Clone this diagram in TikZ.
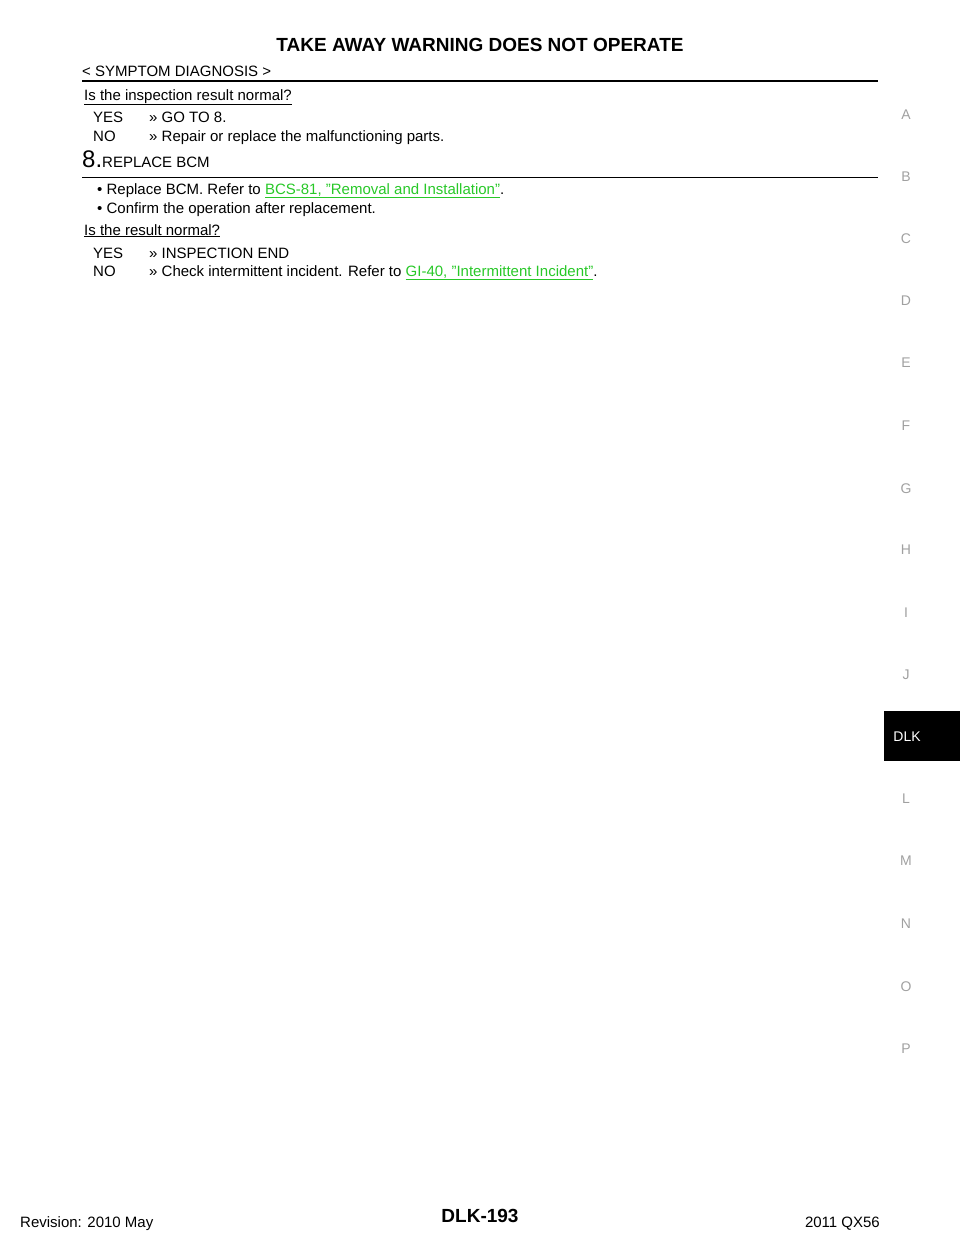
\documentclass[tikz,border=0pt]{standalone}
\usepackage{fontspec}
\setmainfont{Liberation Sans}
\usepackage{xcolor}
\definecolor{lnk}{RGB}{40,200,40}
\definecolor{side}{RGB}{160,160,160}
\begin{document}
\begin{tikzpicture}[x=1pt,y=-1pt,
  txt/.style={anchor=base west,inner sep=0pt,font=\fontsize{15}{18}\selectfont},
  sidel/.style={anchor=base,inner sep=0pt,text=side,font=\fontsize{14}{16}\selectfont}]
\useasboundingbox (0,0) rectangle (960,1242);
\node[anchor=base,inner sep=0pt,font=\bfseries\fontsize{19}{22}\selectfont] (title) at (480,51) {TAKE AWAY WARNING DOES NOT OPERATE};
\node[txt] (sec) at (82,76) {< SYMPTOM DIAGNOSIS >};
\draw[line width=2pt] (82,81) -- (878,81);
\node[txt] (q1) at (84,100) {\underline{Is the inspection result normal?}};
\node[txt] (y1) at (93,122) {YES};
\node[txt] (y1t) at (149,122) {>> GO TO 8.};
\node[txt] (n1) at (93,141) {NO};
\node[txt] (n1t) at (149,141) {>> Repair or replace the malfunctioning parts.};
\node[txt] (s8) at (82,167) {{\fontsize{24}{24}\selectfont 8.}REPLACE BCM};
\draw[line width=0.8pt] (82,177.5) -- (878,177.5);
\node[txt] (b1) at (97,194) {• Replace BCM. Refer to \textcolor{lnk}{\underline{BCS-81, "Removal and Installation"}}.};
\node[txt] (b2) at (97,213) {• Confirm the operation after replacement.};
\node[txt] (q2) at (84,235) {\underline{Is the result normal?}};
\node[txt] (y2) at (93,258) {YES};
\node[txt] (y2t) at (149,258) {>> INSPECTION END};
\node[txt] (n2) at (93,276) {NO};
\node[txt] (n2t) at (149,276) {>> Check intermittent incident. Refer to \textcolor{lnk}{\underline{GI-40, "Intermittent Incident"}}.};
\foreach \l/\y in {A/119,B/181,C/243,D/305,E/367,F/430,G/493,H/554,I/617,J/679,L/803,M/865,N/928,O/991,P/1053}
  \node[sidel] (s\l) at (906,\y) {\l};
\fill[black] (884,711) rectangle (960,761);
\node[anchor=base,inner sep=0pt,text=white,font=\fontsize{14}{16}\selectfont] (dlk) at (907,741) {DLK};
\node[txt] (rev) at (20,1227) {Revision: 2010 May};
\node[anchor=base,inner sep=0pt,font=\bfseries\fontsize{19}{22}\selectfont] (pg) at (480,1222) {DLK-193};
\node[anchor=base east,inner sep=0pt,font=\fontsize{15}{18}\selectfont] (mod) at (880,1227) {2011 QX56};
\end{tikzpicture}
\end{document}
